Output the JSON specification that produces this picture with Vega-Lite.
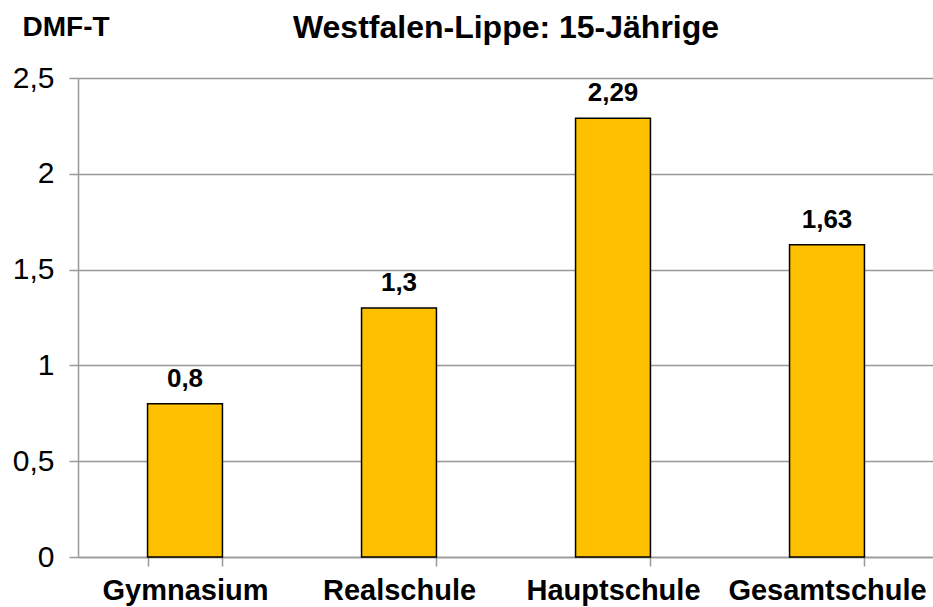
{
  "$schema": "https://vega.github.io/schema/vega-lite/v6.json",
  "autosize": {"type": "none"},
  "padding": {"left": 78, "top": 78, "right": 0, "bottom": 50},
  "width": 856,
  "height": 479,
  "background": "white",
  "title": {
    "text": "Westfalen-Lippe: 15-Jährige",
    "font": "Liberation Sans",
    "fontSize": 32,
    "fontWeight": "bold",
    "color": "black",
    "anchor": "middle",
    "frame": "group",
    "baseline": "alphabetic",
    "offset": 0,
    "dy": 57
  },
  "data": {
    "values": [
      {"schule": "Gymnasium", "wert": 0.8},
      {"schule": "Realschule", "wert": 1.3},
      {"schule": "Hauptschule", "wert": 2.29},
      {"schule": "Gesamtschule", "wert": 1.63}
    ]
  },
  "encoding": {
    "x": {
      "field": "schule",
      "type": "nominal",
      "sort": null,
      "scale": {"paddingInner": 0.65, "paddingOuter": 0.325},
      "axis": {
        "title": null,
        "labelAngle": 0,
        "labelFont": "Liberation Sans",
        "labelFontSize": 29,
        "labelFontWeight": "bold",
        "labelColor": "black",
        "labelPadding": 10,
        "labelLimit": 0,
        "labelOverlap": false,
        "tickBand": "extent",
        "tickSize": 9,
        "tickColor": "#999999",
        "domainColor": "#999999",
        "domainWidth": 1.5,
        "tickWidth": 1.5
      }
    },
    "y": {
      "field": "wert",
      "type": "quantitative",
      "scale": {"domain": [0, 2.5], "nice": false},
      "axis": {
        "values": [0, 0.5, 1, 1.5, 2, 2.5],
        "labelExpr": "replace(toString(datum.value), '.', ',')",
        "labelFont": "Liberation Sans",
        "labelFontSize": 30,
        "labelColor": "black",
        "labelPadding": 15,
        "tickSize": 9,
        "tickColor": "#999999",
        "tickWidth": 1.5,
        "domainColor": "#999999",
        "domainWidth": 1.5,
        "grid": true,
        "gridColor": "#999999",
        "gridWidth": 1.5,
        "title": "DMF-T",
        "titleAngle": 0,
        "titleFont": "Liberation Sans",
        "titleFontSize": 28,
        "titleFontWeight": "bold",
        "titleColor": "black",
        "titleAlign": "left",
        "titleBaseline": "alphabetic",
        "titleX": -56,
        "titleY": -43
      }
    }
  },
  "layer": [
    {
      "mark": {"type": "bar", "color": "#FFC000", "stroke": "black", "strokeWidth": 1.5}
    },
    {
      "transform": [{"calculate": "replace(toString(datum.wert), '.', ',')", "as": "label"}],
      "mark": {
        "type": "text",
        "font": "Liberation Sans",
        "fontSize": 26,
        "fontWeight": "bold",
        "color": "black",
        "baseline": "alphabetic",
        "dy": -17
      },
      "encoding": {"text": {"field": "label"}}
    }
  ],
  "config": {"view": {"stroke": null}}
}
